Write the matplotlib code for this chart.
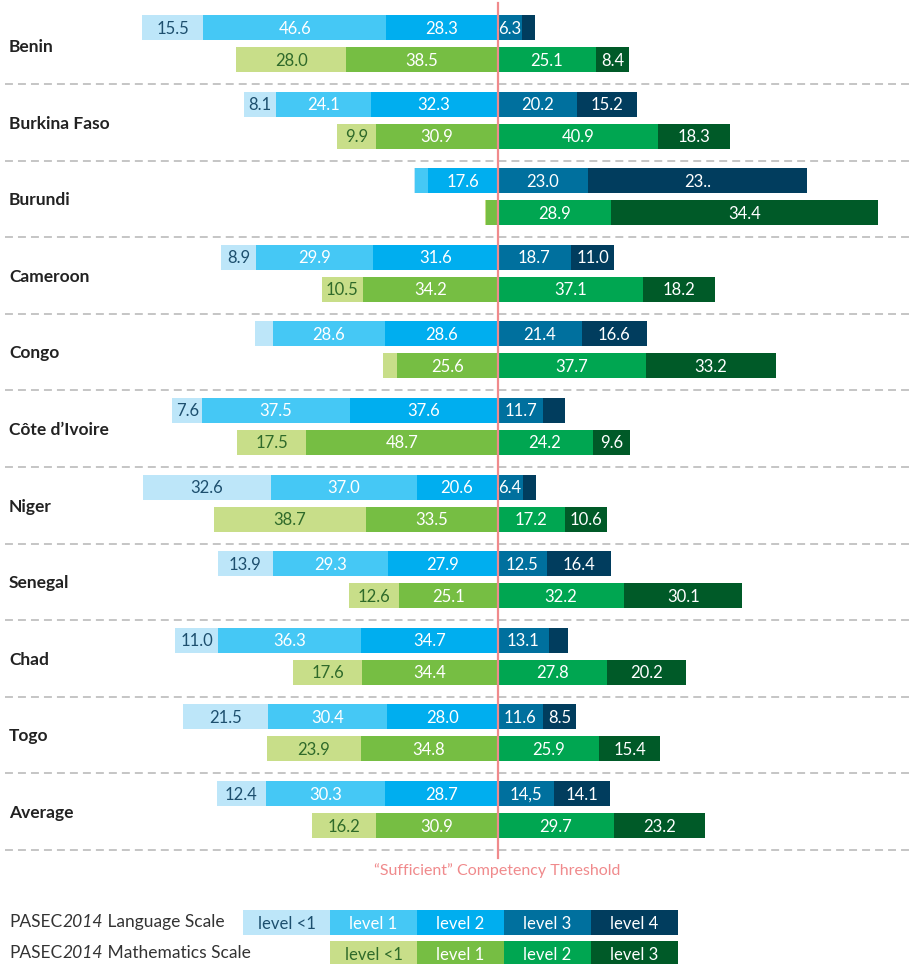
import matplotlib
matplotlib.use('Agg')
import matplotlib.pyplot as plt

plt.rcParams['font.family'] = ['Lato', 'DejaVu Sans']

countries = ['Benin', 'Burkina Faso', 'Burundi', 'Cameroon', 'Congo', 'Côte d’Ivoire',
             'Niger', 'Senegal', 'Chad', 'Togo', 'Average']

# language scale, % of pupils per level
lang_l0 = [15.5, 8.1, 0.4, 8.9, 4.6, 7.6, 32.6, 13.9, 11.0, 21.5, 12.4]
lang_l1 = [46.6, 24.1, 3.3, 29.9, 28.6, 37.5, 37.0, 29.3, 36.3, 30.4, 30.3]
lang_l2 = [28.3, 32.3, 17.6, 31.6, 28.6, 37.6, 20.6, 27.9, 34.7, 28.0, 28.7]
lang_l3 = [6.3, 20.2, 23.0, 18.7, 21.4, 11.7, 6.4, 12.5, 13.1, 11.6, 14.5]
lang_l4 = [3.3, 15.2, 55.7, 11.0, 16.6, 5.6, 3.4, 16.4, 4.9, 8.5, 14.1]

# mathematics scale
math_l0 = [28.0, 9.9, 0.5, 10.5, 3.5, 17.5, 38.7, 12.6, 17.6, 23.9, 16.2]
math_l1 = [38.5, 30.9, 2.8, 34.2, 25.6, 48.7, 33.5, 25.1, 34.4, 34.8, 30.9]
math_l2 = [25.1, 40.9, 28.9, 37.1, 37.7, 24.2, 17.2, 32.2, 27.8, 25.9, 29.7]
math_l3 = [8.4, 18.3, 67.8, 18.2, 33.2, 9.6, 10.6, 30.1, 20.2, 15.4, 23.2]

# labels printed in the source that differ from the values
label_fix = {('lang', 2, 4): '23..', ('math', 2, 3): '34.4', ('lang', 10, 3): '14,5'}

lang_colors = ['#BDE6F9', '#45C8F5', '#00AEEF', '#00709E', '#013D5E']
math_colors = ['#C8DE89', '#76BE43', '#00A651', '#005A28']
lang_legend = ['level <1', 'level 1', 'level 2', 'level 3', 'level 4']
math_legend = ['level <1', 'level 1', 'level 2', 'level 3']

PX = 3.93  # pixels per percent
X0 = 497.5
fig = plt.figure(figsize=(9.13, 9.64), dpi=100)
ax = fig.add_axes([0, 0, 1, 1])
ax.set_xlim(-X0 / PX, (913 - X0) / PX)
ax.set_ylim(964, 0)
ax.axis('off')

pitch = 76.6
bh = 25


def draw_row(vals, n_left, y, colors, kind, i):
    left = -sum(vals[:n_left])
    for k, v in enumerate(vals):
        ax.barh(y, v, left=left, height=bh, color=colors[k], lw=0)
        txt = label_fix.get((kind, i, k), f'{v:.1f}' if v >= 6 else '')
        if txt:
            tc = ('#1D4F6E' if kind == 'lang' else '#2F6A2A') if k == 0 else 'white'
            ax.text(left + v / 2, y + 1, txt, ha='center', va='center', fontsize=12,
                    color=tc)
        left += v


for i, c in enumerate(countries):
    yl = 27.5 + pitch * i
    ym = 59.5 + pitch * i
    draw_row([lang_l0[i], lang_l1[i], lang_l2[i], lang_l3[i], lang_l4[i]], 3, yl,
             lang_colors, 'lang', i)
    draw_row([math_l0[i], math_l1[i], math_l2[i], math_l3[i]], 2, ym,
             math_colors, 'math', i)
    ax.text((9 - X0) / PX, 47 + pitch * i, c, ha='left', va='center', fontsize=12.5,
            fontweight='bold', color='#222222')
    ys = 84 + pitch * i
    ax.plot([(5 - X0) / PX, (913 - X0) / PX], [ys, ys], color='#B5B5B5', lw=1.1,
            dashes=(5.2, 3.3))

ax.plot([0, 0], [3, 858], color='#F08A8C', lw=1.6, zorder=5)
ax.text(0, 871, '“Sufficient” Competency Threshold', ha='center', va='center',
        fontsize=11.5, color='#F08A8C')

# legend
lw_box = 87 / PX
x0 = (243 - X0) / PX
for k, (lab, col) in enumerate(zip(lang_legend, lang_colors)):
    ax.barh(922.5, lw_box, left=x0 + k * lw_box, height=25, color=col, lw=0)
    ax.text(x0 + (k + 0.5) * lw_box, 924, lab, ha='center', va='center', fontsize=12,
            color='#1D4F6E' if k == 0 else 'white')
x0m = x0 + lw_box
for k, (lab, col) in enumerate(zip(math_legend, math_colors)):
    ax.barh(953, lw_box, left=x0m + k * lw_box, height=24, color=col, lw=0)
    ax.text(x0m + (k + 0.5) * lw_box, 955, lab, ha='center', va='center', fontsize=12,
            color='#2F6A2A' if k == 0 else 'white')

for yy, name in [(922, ' Language Scale'), (953, ' Mathematics Scale')]:
    t1 = ax.text((9 - X0) / PX, yy, 'PASEC', ha='left', va='center', fontsize=12.5,
                 color='#333333')
    t2 = ax.annotate('2014', xy=(1, 0), xycoords=t1, ha='left', va='bottom',
                     fontsize=12.5, color='#333333', style='italic')
    ax.annotate(name, xy=(1, 0), xycoords=t2, ha='left', va='bottom',
                fontsize=12.5, color='#333333')

fig.savefig('out.png', dpi=100)
